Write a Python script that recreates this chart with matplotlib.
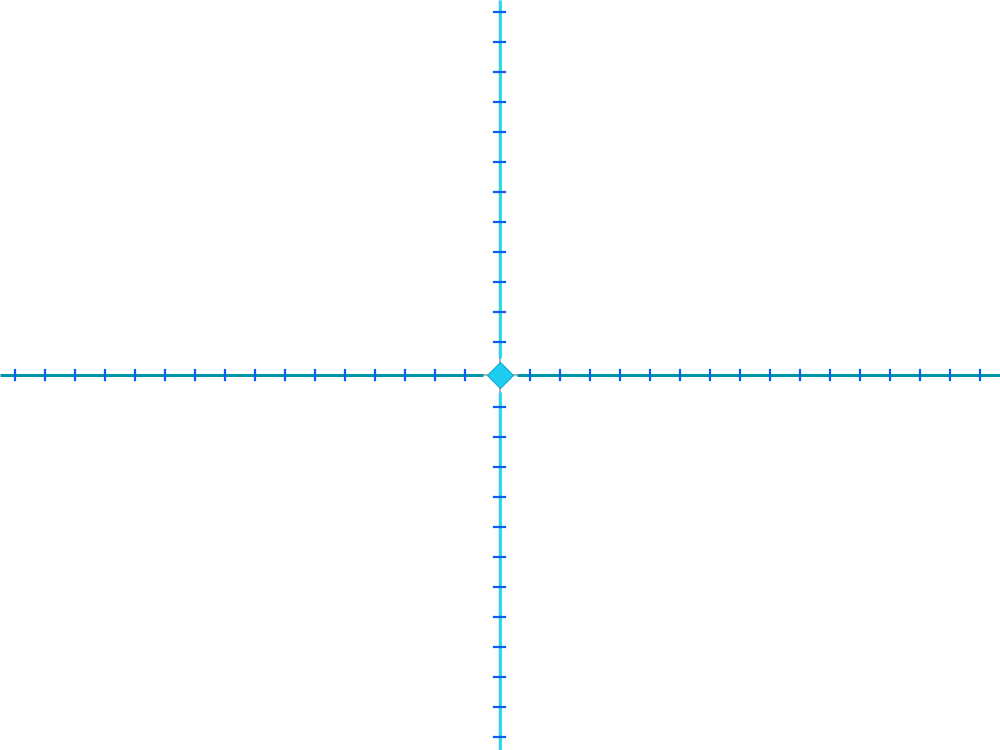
import matplotlib
matplotlib.use("Agg")
import matplotlib.pyplot as plt

# tick positions along each axis (pixel units, origin at centre)
x_ticks = [-485, -455, -425, -395, -365, -335, -305, -275, -245, -215, -185, -155, -125, -95, -65, -35,
           30, 60, 90, 120, 150, 180, 210, 240, 270, 300, 330, 360, 390, 420, 450, 480]
y_ticks = [363, 333, 303, 273, 243, 213, 183, 153, 123, 93, 63, 33,
           -32, -62, -92, -122, -152, -182, -212, -242, -272, -302, -332, -362]
origin = (0, 0)

fig = plt.figure(figsize=(10, 7.5), dpi=100)
ax = fig.add_axes([0, 0, 1, 1])
ax.set_xlim(-500, 500)
ax.set_ylim(-375, 375)
ax.axis("off")

# horizontal axis
ax.plot([-500, -17], [0, 0], color="#0095a8", lw=2.2, solid_capstyle="butt", zorder=2)
ax.plot([17, 500], [0, 0], color="#0095a8", lw=2.2, solid_capstyle="butt", zorder=2)
ax.plot([-17, 17], [0, 0], color="#9aa6a8", lw=1.2, zorder=1)

# vertical axis (grey edge + cyan)
for seg in ([-375, -17], [17, 375]):
    ax.plot([-1.5, -1.5], seg, color="#8a9a9c", lw=1, solid_capstyle="butt", zorder=2)
    ax.plot([0.3, 0.3], seg, color="#19dcf5", lw=2, solid_capstyle="butt", zorder=2)
ax.plot([-0.5, -0.5], [-17, 17], color="#9aa6a8", lw=1.2, zorder=1)

# ticks
for x in x_ticks:
    ax.plot([x, x], [-5, 5], color="#0a5cf5", lw=1.6, zorder=3)
for y in y_ticks:
    ax.plot([-6, 5], [y, y], color="#0a5cf5", lw=1.6, zorder=3)

ax.plot(origin[0], origin[1], marker="D", markersize=13, markerfacecolor="#1ecdf2",
        markeredgecolor="#12a9cc", markeredgewidth=0.8, zorder=4)

fig.savefig("out.png", dpi=100)
